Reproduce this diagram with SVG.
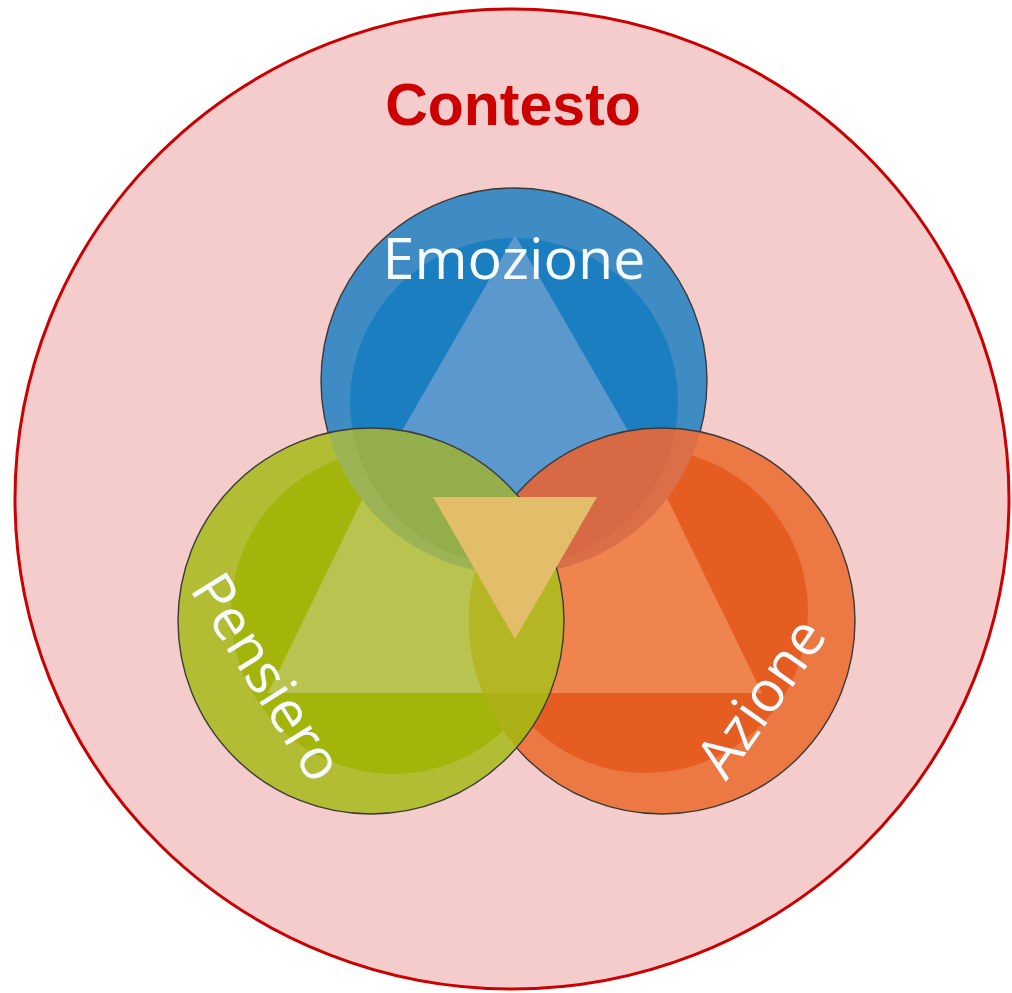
<svg xmlns="http://www.w3.org/2000/svg" width="1012" height="993" viewBox="0 0 1012 993">
<style>
.ring{stroke:#3a3a3a;stroke-width:1.4;fill:none}
.lbl{font-family:"Open Sans","Noto Sans","DejaVu Sans",sans-serif;font-size:57px;fill:#f6fbff}
.title{font-family:"Liberation Sans",Arial,sans-serif;font-weight:bold;font-size:59px;fill:#cc0000}
</style>
<defs>
<clipPath id="clipB"><circle cx="514" cy="381" r="193"/></clipPath>
<clipPath id="clipG"><circle cx="371" cy="621" r="193"/></clipPath>
<clipPath id="clipO"><circle cx="662" cy="621" r="193"/></clipPath>
<polygon id="tri" points="515,235 362,500 268,693 762,693 668,500"/>
</defs>

<g id="contesto">
<ellipse cx="512" cy="499" rx="497" ry="490" fill="#f4cccc" stroke="#cc0000" stroke-width="3"/>
<text class="title" x="513" y="125" text-anchor="middle">Contesto</text>
</g>

<g id="emozione">
<circle cx="514" cy="381" r="193" fill="#3f8cc5"/>
<circle cx="514" cy="402" r="164" fill="#1b7ec0" clip-path="url(#clipB)"/>
<use href="#tri" fill="#5b98cd" clip-path="url(#clipB)"/>
<circle class="ring" cx="514" cy="381" r="193"/>
<text class="lbl" x="514" y="279" text-anchor="middle" font-size="60" textLength="263" lengthAdjust="spacingAndGlyphs">Emozione</text>
</g>

<g id="azione">
<circle cx="662" cy="621" r="193" fill="#ec7843"/>
<circle cx="646" cy="611" r="162" fill="#e65d21" clip-path="url(#clipO)"/>
<use href="#tri" fill="#ef844f" clip-path="url(#clipO)"/>
<circle cx="662" cy="621" r="193" fill="#db6f48" clip-path="url(#clipB)"/>
<circle cx="514" cy="402" r="164" fill="#d76a44" clip-path="url(#clipO)"/>
<circle class="ring" cx="662" cy="621" r="193"/>
<text class="lbl" transform="translate(726,782) rotate(-55)" x="0" y="0">Azione</text>
</g>

<g id="pensiero">
<circle cx="371" cy="621" r="193" fill="#b3bd33"/>
<circle cx="393" cy="612" r="162" fill="#a3b40b" clip-path="url(#clipG)"/>
<use href="#tri" fill="#b9c34f" clip-path="url(#clipG)"/>
<circle cx="371" cy="621" r="193" fill="#9cb453" clip-path="url(#clipB)"/>
<circle cx="514" cy="402" r="164" fill="#93ae4b" clip-path="url(#clipG)"/>
<circle cx="371" cy="621" r="193" fill="#acb115" clip-path="url(#clipO)"/>
<g clip-path="url(#clipO)"><use href="#tri" fill="#b5b624" clip-path="url(#clipG)"/></g>
<circle class="ring" cx="371" cy="621" r="193"/>
<text class="lbl" transform="translate(189,589) rotate(58)" x="0" y="0">Pensiero</text>
</g>

<g id="centro">
<polygon points="433,497 597,497 515,639" fill="#e3be6a"/>
</g>
</svg>
